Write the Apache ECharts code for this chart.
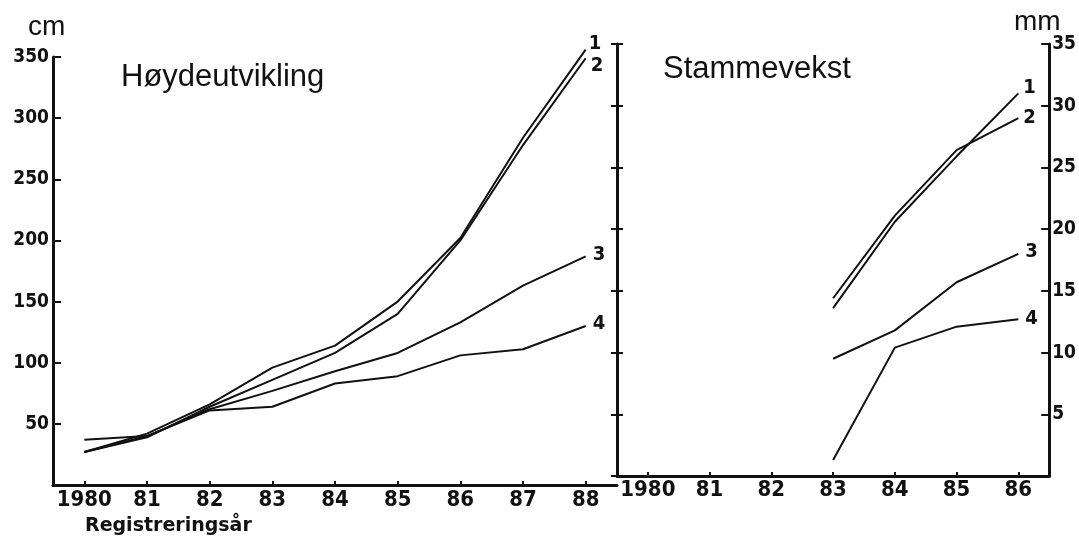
<!DOCTYPE html>
<html>
<head>
<meta charset="utf-8">
<script src="https://cdn.jsdelivr.net/npm/echarts@6/dist/echarts.min.js"></script>
<style>
html,body{margin:0;padding:0;background:#fff;}
#c{width:1079px;height:539px;}
</style>
</head>
<body>
<div id="c"></div>
<script>
// ---- data ----
var yearsLeft = ['1980','81','82','83','84','85','86','87','88'];
var yearsRight = ['1980','81','82','83','84','85','86'];
var seriesNames = ['1','2','3','4'];
// Høydeutvikling (cm)
var heightS1 = [27, 42, 66, 96, 114, 150, 202, 284, 356];
var heightS2 = [27, 39, 64, 86, 108, 140, 200, 278, 349];
var heightS3 = [27, 40, 62, 77, 93, 108, 133, 163, 187];
var heightS4 = [37, 40, 61, 64, 83, 89, 106, 111, 130];
// Stammevekst (mm)
var stemS1 = [null, null, null, 13.6, 20.6, 25.9, 31.0];
var stemS2 = [null, null, null, 14.4, 21.1, 26.4, 29.0];
var stemS3 = [null, null, null, 9.5, 11.8, 15.7, 18.0];
var stemS4 = [null, null, null, 1.3, 10.4, 12.1, 12.7];
var titleLeft = 'Høydeutvikling';
var titleRight = 'Stammevekst';
var unitLeft = 'cm';
var unitRight = 'mm';
var xName = 'Registreringsår';

var INK = '#111';
var NARROW = "'Liberation Sans Narrow','DejaVu Sans Condensed',sans-serif";
var SANS = "'Liberation Sans','Helvetica','Arial',sans-serif";

var chart = echarts.init(document.getElementById('c'), null, {renderer: 'canvas'});

function xAxisCfg(data, gridIndex, margin) {
  return {
    type: 'category', gridIndex: gridIndex, data: data, boundaryGap: true,
    axisLine: {show: true, lineStyle: {color: INK, width: 3}},
    axisTick: {show: true, interval: 0, alignWithLabel: true, inside: true, length: 4, lineStyle: {color: INK, width: 2}},
    axisLabel: {interval: 0, color: INK, fontFamily: NARROW, fontWeight: 'bold', fontSize: 22, margin: margin},
    splitLine: {show: false}
  };
}
function endLabel(off) {
  return {show: true, formatter: '{a}', color: INK, fontFamily: NARROW, fontWeight: 'bold',
          fontSize: 20, distance: 3, offset: off};
}
function lineSeries(name, data, xi, yi, off) {
  return {
    type: 'line', name: name, data: data, xAxisIndex: xi, yAxisIndex: yi,
    showSymbol: false, symbol: 'none', clip: false, silent: true,
    lineStyle: {color: INK, width: 2}, itemStyle: {color: INK},
    endLabel: endLabel(off), animation: false
  };
}

var option = {
  backgroundColor: '#ffffff',
  animation: false,
  title: [
    {text: titleLeft, left: 116, top: 57,
     textStyle: {fontFamily: SANS, fontWeight: 'normal', fontSize: 31, color: INK}},
    {text: titleRight, left: 658, top: 49,
     textStyle: {fontFamily: SANS, fontWeight: 'normal', fontSize: 31, color: INK}}
  ],
  graphic: [
    {type: 'text', left: 28, top: 13, style: {text: unitLeft, font: 'normal 28px ' + SANS, fill: INK}},
    {type: 'text', left: 1014, top: 8, style: {text: unitRight, font: 'normal 28px ' + SANS, fill: INK}},
    {type: 'text', left: 85, top: 517, style: {text: xName, font: 'bold 19px ' + "'DejaVu Sans',sans-serif", fill: INK}}
  ],
  grid: [
    {left: 53, top: 57, width: 564, height: 428},
    {left: 617, top: 44, width: 435, height: 432}
  ],
  xAxis: [
    xAxisCfg(yearsLeft, 0, 4),
    xAxisCfg(yearsRight, 1, 3)
  ],
  yAxis: [
    {type: 'value', gridIndex: 0, min: 0, max: 350, interval: 50, position: 'left',
     axisLine: {show: true, lineStyle: {color: INK, width: 3}},
     axisTick: {show: true, inside: true, length: 8, lineStyle: {color: INK, width: 2}},
     axisLabel: {showMinLabel: false, color: INK, fontFamily: NARROW, fontWeight: 'bold', fontSize: 19, margin: 4},
     splitLine: {show: false}},
    {type: 'value', gridIndex: 1, min: 0, max: 35, interval: 5, position: 'left',
     axisLine: {show: true, lineStyle: {color: INK, width: 3}},
     axisTick: {show: true, inside: false, length: 6, lineStyle: {color: INK, width: 2}},
     axisLabel: {show: false}, splitLine: {show: false}},
    {type: 'value', gridIndex: 1, min: 0, max: 35, interval: 5, position: 'left',
     axisLine: {show: false},
     axisTick: {show: true, inside: true, length: 6, lineStyle: {color: INK, width: 2}},
     axisLabel: {show: false}, splitLine: {show: false}},
    {type: 'value', gridIndex: 1, min: 0, max: 35, interval: 5, position: 'right',
     axisLine: {show: true, lineStyle: {color: INK, width: 3}},
     axisTick: {show: true, inside: true, length: 8, lineStyle: {color: INK, width: 2}},
     axisLabel: {showMinLabel: false, color: INK, fontFamily: NARROW, fontWeight: 'bold', fontSize: 19, margin: 3},
     splitLine: {show: false}}
  ],
  series: [
    lineSeries(seriesNames[0], heightS1, 0, 0, [0, -6]),
    lineSeries(seriesNames[1], heightS2, 0, 0, [2, 8]),
    lineSeries(seriesNames[2], heightS3, 0, 0, [4, -2]),
    lineSeries(seriesNames[3], heightS4, 0, 0, [4, -2]),
    lineSeries(seriesNames[0], stemS1, 1, 3, [2, -6]),
    lineSeries(seriesNames[1], stemS2, 1, 3, [2, 0]),
    lineSeries(seriesNames[2], stemS3, 1, 3, [4, -2]),
    lineSeries(seriesNames[3], stemS4, 1, 3, [4, 0])
  ]
};
chart.setOption(option);
</script>
</body>
</html>
